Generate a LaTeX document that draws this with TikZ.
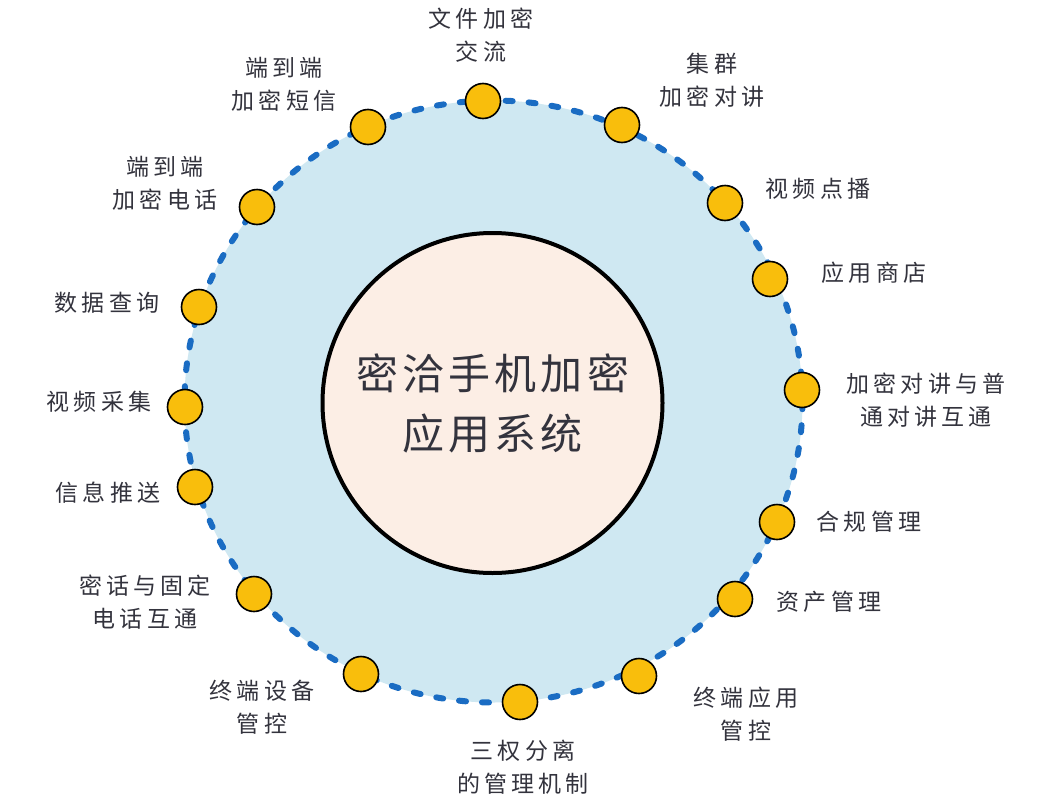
\documentclass[tikz,border=0pt]{standalone}
\usepackage{fontspec}
\newfontfamily\labfont{Noto Sans CJK SC}[LetterSpace=18]
\newfontfamily\cenfont{Noto Sans CJK SC}[LetterSpace=10]
\definecolor{ringfill}{HTML}{CFE8F2}
\definecolor{ringline}{HTML}{1A6CC3}
\definecolor{dotfill}{HTML}{F9BE0C}
\definecolor{corefill}{HTML}{FCEEE5}
\definecolor{txt}{HTML}{33333D}
\tikzset{
  dotnode/.style={circle,draw=black,line width=1.6pt,fill=dotfill,minimum size=35pt,inner sep=0pt},
  lab/.style={text=txt,font=\labfont\fontsize{23}{33}\selectfont,align=center,inner sep=0pt},
  ring/.style={draw=ringline,fill=ringfill,line width=6pt,line cap=round,dash pattern=on 7pt off 16pt},
  core/.style={circle,draw=black,line width=4pt,fill=corefill,minimum size=340pt,inner sep=0pt,
    text=txt,font=\cenfont\fontsize{42}{60}\selectfont,align=center}
}
\begin{document}
\begin{tikzpicture}[x=1pt,y=-1pt]
\useasboundingbox[fill=white] (0,0) rectangle (1060,806);
\path[ring] (493.5,401.5) ellipse [x radius=309pt, y radius=301pt];
\node[core] (core) at (492.5,403) {密洽手机加密\\应用系统};
% dots
\node[dotnode] (d1) at (483,101) {};
\node[dotnode] (d2) at (622,125) {};
\node[dotnode] (d3) at (725,203) {};
\node[dotnode] (d4) at (770,279) {};
\node[dotnode] (d5) at (802,390) {};
\node[dotnode] (d6) at (777,522) {};
\node[dotnode] (d7) at (735,599) {};
\node[dotnode] (d8) at (639,676) {};
\node[dotnode] (d9) at (520,702) {};
\node[dotnode] (d10) at (361,674) {};
\node[dotnode] (d11) at (254,594) {};
\node[dotnode] (d12) at (195,487) {};
\node[dotnode] (d13) at (185,407) {};
\node[dotnode] (d14) at (199,307) {};
\node[dotnode] (d15) at (257,207) {};
\node[dotnode] (d16) at (368,127) {};
% labels
\node[lab] (l1) at (481,35) {文件加密\\交流};
\node[lab] (l2) at (712,80) {集群\\加密对讲};
\node[lab] (l3) at (818,189) {视频点播};
\node[lab] (l4) at (874,273) {应用商店};
\node[lab] (l5) at (926,400) {加密对讲与普\\通对讲互通};
\node[lab] (l6) at (869,522) {合规管理};
\node[lab] (l7) at (829,602) {资产管理};
\node[lab] (l8) at (746,714) {终端应用\\管控};
\node[lab] (l9) at (523,767) {三权分离\\的管理机制};
\node[lab] (l10) at (262,707) {终端设备\\管控};
\node[lab] (l11) at (145,602) {密话与固定\\电话互通};
\node[lab] (l12) at (108,493) {信息推送};
\node[lab] (l13) at (99,402) {视频采集};
\node[lab] (l14) at (107,303) {数据查询};
\node[lab] (l15) at (165,183) {端到端\\加密电话};
\node[lab] (l16) at (284,84) {端到端\\加密短信};
\end{tikzpicture}
\end{document}
